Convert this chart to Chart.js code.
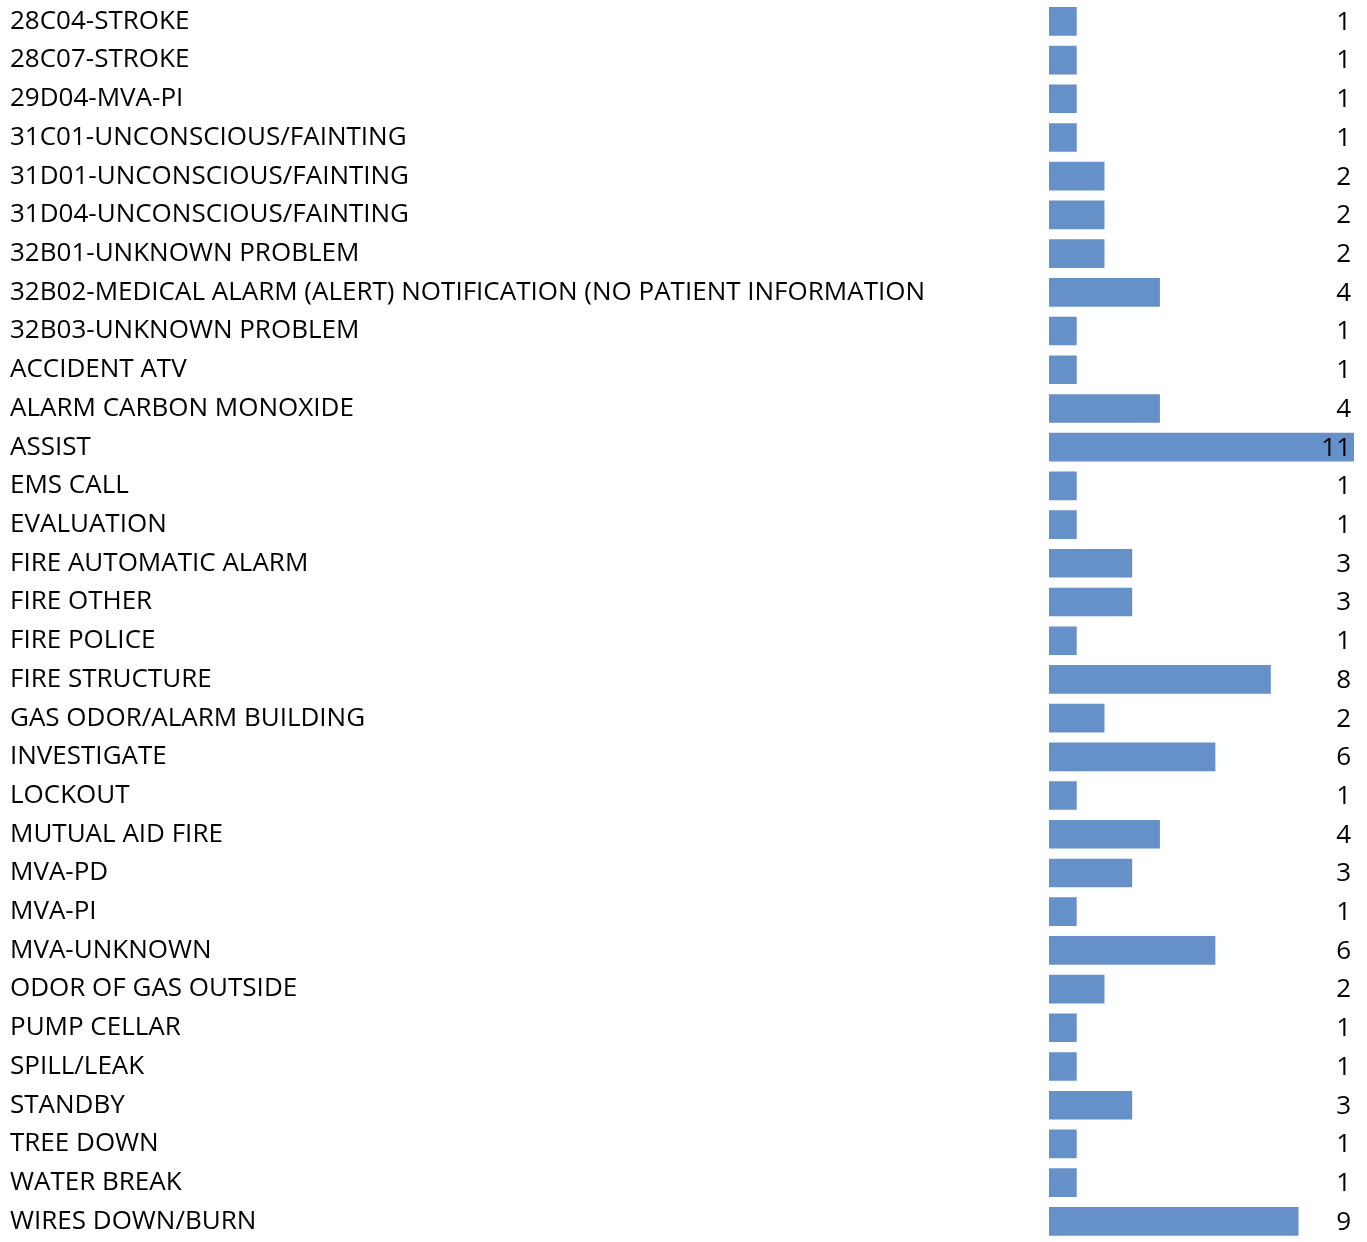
<!DOCTYPE html>
<html>
<head>
<meta charset="utf-8">
<script src="https://cdn.jsdelivr.net/npm/chart.js@4"></script>
<style>
  body { margin: 0; background: #fff; }
  #wrap { width: 1367px; height: 1242px; position: relative; }
</style>
</head>
<body>
<div id="wrap"><canvas id="chart"></canvas></div>
<script>
const categories = [
  '28C04-STROKE', '28C07-STROKE', '29D04-MVA-PI', '31C01-UNCONSCIOUS/FAINTING',
  '31D01-UNCONSCIOUS/FAINTING', '31D04-UNCONSCIOUS/FAINTING', '32B01-UNKNOWN PROBLEM',
  '32B02-MEDICAL ALARM (ALERT) NOTIFICATION (NO PATIENT INFORMATION',
  '32B03-UNKNOWN PROBLEM', 'ACCIDENT ATV', 'ALARM CARBON MONOXIDE', 'ASSIST',
  'EMS CALL', 'EVALUATION', 'FIRE AUTOMATIC ALARM', 'FIRE OTHER', 'FIRE POLICE',
  'FIRE STRUCTURE', 'GAS ODOR/ALARM BUILDING', 'INVESTIGATE', 'LOCKOUT',
  'MUTUAL AID FIRE', 'MVA-PD', 'MVA-PI', 'MVA-UNKNOWN', 'ODOR OF GAS OUTSIDE',
  'PUMP CELLAR', 'SPILL/LEAK', 'STANDBY', 'TREE DOWN', 'WATER BREAK', 'WIRES DOWN/BURN'
];
const counts = [
  1, 1, 1, 1,
  2, 2, 2,
  4,
  1, 1, 4, 11,
  1, 1, 3, 3, 1,
  8, 2, 6, 1,
  4, 3, 1, 6, 2,
  1, 1, 3, 1, 1, 9
];

// small lineHeight so the tick labels don't add padding above/below the bars
const FONT = { family: '"Open Sans", sans-serif', size: 26, lineHeight: 0.1 };

// value labels, right-aligned at the right edge of the plot
const valueLabels = {
  id: 'valueLabels',
  afterDatasetsDraw(chart) {
    const ctx = chart.ctx;
    const meta = chart.getDatasetMeta(0);
    ctx.save();
    ctx.font = `${FONT.size}px ${FONT.family}`;
    ctx.fillStyle = '#000';
    ctx.textAlign = 'right';
    ctx.textBaseline = 'middle';
    meta.data.forEach((bar, i) => {
      ctx.fillText(String(counts[i]), chart.chartArea.right - 3, bar.y + 1);
    });
    ctx.restore();
  }
};

const ctx = document.getElementById('chart').getContext('2d');
new Chart(ctx, {
  type: 'bar',
  data: {
    labels: categories,
    datasets: [{
      data: counts,
      backgroundColor: '#6690c8',
      borderWidth: 0,
      categoryPercentage: 1,
      barPercentage: 0.74
    }]
  },
  options: {
    indexAxis: 'y',
    responsive: true,
    maintainAspectRatio: false,
    animation: false,
    layout: { padding: { left: 10, right: 13, top: 2, bottom: 0 } },
    plugins: { legend: { display: false }, tooltip: { enabled: false } },
    scales: {
      x: {
        display: false,
        min: 0,
        max: 11
      },
      y: {
        grid: { display: false },
        border: { display: false },
        ticks: {
          autoSkip: false,
          crossAlign: 'far',
          color: '#000',
          font: FONT,
          padding: 0
        },
        afterFit(scale) { scale.width = 1039; }
      }
    }
  },
  plugins: [valueLabels]
});
</script>
</body>
</html>
